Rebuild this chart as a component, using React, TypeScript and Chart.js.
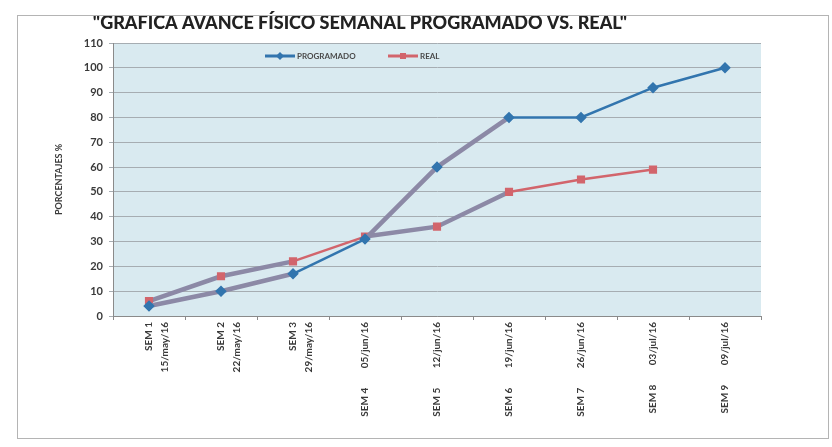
import React, { useEffect, useRef } from "react";
import { Chart, registerables } from "chart.js";

Chart.register(...registerables);

const TITLE = "\"GRAFICA AVANCE FÍSICO SEMANAL PROGRAMADO VS. REAL\"";
const Y_TITLE = "PORCENTAJES %";

const categories: (string | string[])[] = [
  ["SEM 1", "15/may/16"],
  ["SEM 2", "22/may/16"],
  ["SEM 3", "29/may/16"],
  "SEM 4        05/jun/16",
  "SEM 5        12/jun/16",
  "SEM 6        19/jun/16",
  "SEM 7        26/jun/16",
  "SEM 8        03/jul/16",
  "SEM 9        09/jul/16",
];

const programado: (number | null)[] = [4, 10, 17, 31, 60, 80, 80, 92, 100];
const real: (number | null)[] = [6, 16, 22, 32, 36, 50, 55, 59, null];

const Y_MIN = 0;
const Y_MAX = 110;
const Y_STEP = 10;

// styles (kept apart from data)
const BLUE = "#3275AE";
const RED = "#D2656C";
const OVERLAY = "#8C89A6";
const progSegOverlay = [true, true, false, true, true, false, false, false];
const realSegOverlay = [true, true, false, true, true, false, false, false];

const FONT = "Lato, 'Open Sans', 'DejaVu Sans', sans-serif";

const bgPlugin = {
  id: "bgPlugin",
  beforeDraw(chart: any) {
    const { ctx, chartArea } = chart;
    ctx.save();
    ctx.fillStyle = "#ffffff";
    ctx.fillRect(0, 0, chart.width, chart.height);
    ctx.fillStyle = "#D9EAF0";
    ctx.fillRect(chartArea.left, chartArea.top, chartArea.right - chartArea.left, chartArea.bottom - chartArea.top);
    ctx.restore();
  },
  afterDraw(chart: any) {
    const { ctx } = chart;
    ctx.save();
    ctx.font = `900 18px ${FONT}`;
    ctx.fillStyle = "#222222";
    ctx.textAlign = "center";
    ctx.textBaseline = "middle";
    ctx.fillText(TITLE, 360, 23);
    // legend
    const items = [
      { label: chart.data.datasets[0].label, color: BLUE, x: 265, shape: "diamond" },
      { label: chart.data.datasets[1].label, color: RED, x: 388, shape: "rect" },
    ];
    const y = 56;
    items.forEach((it) => {
      ctx.strokeStyle = it.color;
      ctx.lineWidth = 3;
      ctx.beginPath();
      ctx.moveTo(it.x, y);
      ctx.lineTo(it.x + 30, y);
      ctx.stroke();
      ctx.fillStyle = it.color;
      const cx = it.x + 15;
      if (it.shape === "diamond") {
        ctx.beginPath();
        ctx.moveTo(cx, y - 4);
        ctx.lineTo(cx + 4, y);
        ctx.lineTo(cx, y + 4);
        ctx.lineTo(cx - 4, y);
        ctx.closePath();
        ctx.fill();
      } else {
        ctx.fillRect(cx - 3, y - 3, 6, 6);
      }
      ctx.font = `bold 8px ${FONT}`;
      ctx.fillStyle = "#4a4a4a";
      ctx.textAlign = "left";
      ctx.textBaseline = "middle";
      ctx.fillText(it.label, it.x + 32, y);
    });
    ctx.restore();
  },
};

export default function App() {
  const ref = useRef<HTMLCanvasElement | null>(null);
  useEffect(() => {
    if (!ref.current) return;
    const chart = new Chart(ref.current, {
      type: "line",
      data: {
        labels: categories,
        datasets: [
          {
            label: "PROGRAMADO",
            data: programado,
            borderColor: BLUE,
            backgroundColor: BLUE,
            borderWidth: 2.5,
            pointStyle: "rectRot",
            pointRadius: 4,
            pointBackgroundColor: BLUE,
            pointBorderColor: BLUE,
            tension: 0,
            segment: {
              borderColor: (c: any) => (progSegOverlay[c.p0DataIndex] ? OVERLAY : BLUE),
              borderWidth: (c: any) => (progSegOverlay[c.p0DataIndex] ? 4.5 : 2.5),
            } as any,
          },
          {
            label: "REAL",
            data: real,
            borderColor: RED,
            backgroundColor: RED,
            borderWidth: 2.5,
            pointStyle: "rect",
            pointRadius: 4,
            pointBackgroundColor: RED,
            pointBorderColor: RED,
            tension: 0,
            segment: {
              borderColor: (c: any) => (realSegOverlay[c.p0DataIndex] ? OVERLAY : RED),
              borderWidth: (c: any) => (realSegOverlay[c.p0DataIndex] ? 4.5 : 2.5),
            } as any,
          },
        ],
      },
      options: {
        responsive: false,
        animation: false,
        devicePixelRatio: 1,
        layout: { padding: { top: 43, right: 71, left: 0, bottom: 0 } },
        plugins: {
          legend: { display: false },
          title: { display: false },
          tooltip: { enabled: false },
        },
        scales: {
          x: {
            type: "category",
            offset: true,
            grid: { drawOnChartArea: false, drawTicks: true, tickLength: 4, color: "#8a8a8a", offset: true },
            border: { color: "#8a8a8a" },
            ticks: {
              autoSkip: false,
              minRotation: 90,
              maxRotation: 90,
              padding: 2,
              color: "#3a3a3a",
              font: { family: FONT, size: 10, weight: "bold", lineHeight: 1.6 },
            },
            afterFit(scale: any) {
              scale.height = 131;
            },
          },
          y: {
            min: Y_MIN,
            max: Y_MAX,
            ticks: {
              stepSize: Y_STEP,
              color: "#3a3a3a",
              padding: 6,
              font: { family: FONT, size: 11, weight: "bold" },
            },
            grid: { color: "#A6ADB2", tickLength: 4 },
            border: { color: "#8a8a8a" },
            title: {
              display: true,
              text: Y_TITLE,
              color: "#3a3a3a",
              font: { family: FONT, size: 9, weight: "bold" },
              padding: { top: 54, bottom: 0 },
            },
            afterFit(scale: any) {
              scale.width = 113;
            },
          },
        },
      },
      plugins: [bgPlugin],
    });
    return () => chart.destroy();
  }, []);

  return (
    <div style={{ position: "fixed", left: 0, top: 0, width: 832, height: 447, background: "#fff" }}>
      <canvas ref={ref} width={832} height={447} style={{ display: "block" }} />
      <div
        style={{
          position: "absolute",
          left: 17,
          top: 15,
          width: 810,
          height: 422,
          border: "1px solid #b4b4b4",
          pointerEvents: "none",
        }}
      />
    </div>
  );
}
